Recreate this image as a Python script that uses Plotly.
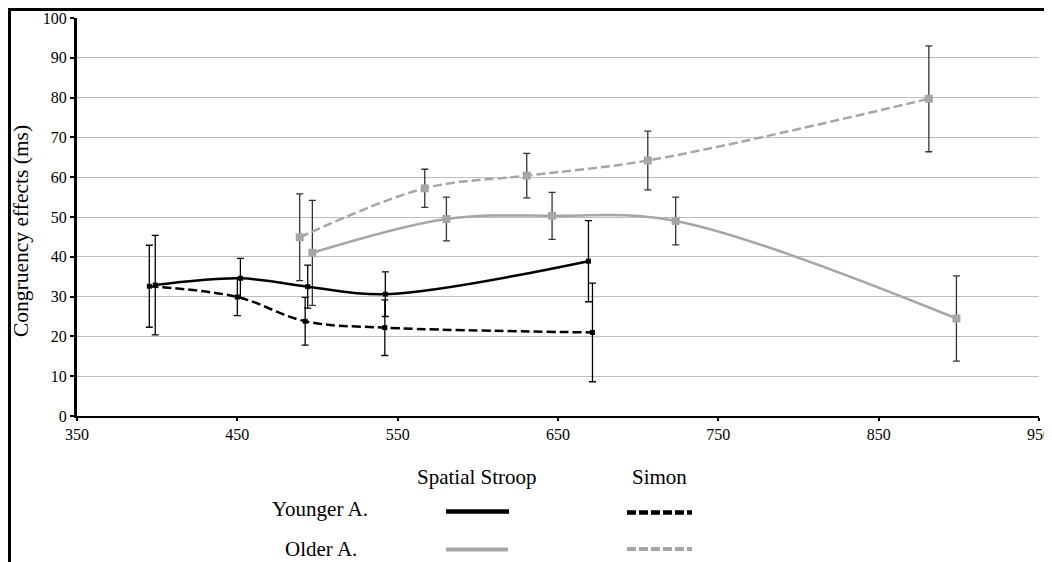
import plotly.graph_objects as go

# ---- data ----
young_stroop_x = [398.8, 451.9, 493.9, 542.3, 669.0]
young_stroop_y = [32.9, 34.6, 32.5, 30.6, 38.9]
young_stroop_err = [12.5, 5.0, 5.4, 5.6, 10.2]

young_simon_x = [395.1, 450.0, 492.3, 542.0, 671.5]
young_simon_y = [32.6, 29.9, 23.8, 22.2, 21.0]
young_simon_err = [10.3, 4.7, 6.0, 7.0, 12.4]

old_stroop_x = [496.8, 580.4, 646.3, 723.4, 898.5]
old_stroop_y = [41.0, 49.5, 50.3, 49.0, 24.5]
old_stroop_err = [13.2, 5.5, 5.9, 6.0, 10.7]

old_simon_x = [488.9, 566.9, 630.5, 706.0, 881.3]
old_simon_y = [44.9, 57.2, 60.4, 64.2, 79.7]
old_simon_err = [10.9, 4.8, 5.6, 7.4, 13.3]

x_ticks = [350, 450, 550, 650, 750, 850, 950]
y_ticks = [0, 10, 20, 30, 40, 50, 60, 70, 80, 90, 100]

column_labels = ["Spatial Stroop", "Simon"]
row_labels = ["Younger A.", "Older A."]
y_title = "Congruency effects (ms)"

BLACK = "#000000"
GRAY = "#a6a6a6"
FONT = "Liberation Serif"

fig = go.Figure()


def add_series(x, y, err, color, dash, msize, ecolor):
    fig.add_trace(go.Scatter(
        x=x, y=y, mode="lines+markers",
        line=dict(color=color, width=2.5, dash=dash, shape="spline", smoothing=1.0),
        marker=dict(symbol="square", size=msize, color=color),
        error_y=dict(type="data", array=err, visible=True, color=ecolor,
                     thickness=1.3, width=3.5),
        showlegend=False,
    ))


add_series(old_stroop_x, old_stroop_y, old_stroop_err, GRAY, "solid", 8, "#333333")
add_series(old_simon_x, old_simon_y, old_simon_err, GRAY, "9px,4px", 8, "#333333")
add_series(young_stroop_x, young_stroop_y, young_stroop_err, BLACK, "solid", 5, BLACK)
add_series(young_simon_x, young_simon_y, young_simon_err, BLACK, "9px,4px", 5, BLACK)

# The page adds an 8px body margin, so figure pixel = screen pixel - 8.
OFF = 8
W, H = 1044, 554
L, R, T, B = 69, 13, 10, 146
PW, PH = W - L - R, H - T - B


def px(sx):
    return (sx - OFF - L) / PW


def py(sy):
    return (H - B - (sy - OFF)) / PH


def label(text, sx, sy, size, angle=0):
    return dict(text=text, x=px(sx), y=py(sy), xref="paper", yref="paper",
                xanchor="center", yanchor="middle", textangle=angle,
                showarrow=False, font=dict(family=FONT, size=size, color="black"))


annotations = [
    label(y_title, 21, 231, 21.5, -90),
    label(column_labels[0], 477, 477, 21),
    label(column_labels[1], 659, 477, 21),
    label(row_labels[0], 320, 509, 21),
    label(row_labels[1], 321, 549, 21),
]


def hline(sx0, sx1, sy, color, width, dash="solid", layer="above"):
    return dict(type="line", xref="paper", yref="paper", x0=px(sx0), x1=px(sx1),
                y0=py(sy), y1=py(sy), layer=layer,
                line=dict(color=color, width=width, dash=dash))


def vline(sx, sy0, sy1, color, width, layer="above"):
    return dict(type="line", xref="paper", yref="paper", x0=px(sx), x1=px(sx),
                y0=py(sy0), y1=py(sy1), layer=layer, line=dict(color=color, width=width))


shapes = [
    # outer frame (left, top, right)
    vline(9.5, 8, 600, "black", 3, "below"),
    hline(8, 1049, 9.5, "black", 3, "solid", "below"),
    vline(1048, 8, 600, "black", 3, "below"),
    # legend samples
    hline(446, 509, 511.5, BLACK, 4.5),
    hline(627, 692, 512.5, BLACK, 4.5, "9px,3px"),
    hline(446, 508, 549.5, GRAY, 4),
    hline(627, 692, 549, GRAY, 4, "9px,3px"),
]

fig.update_layout(
    width=W, height=H,
    margin=dict(l=L, r=R, t=T, b=B, autoexpand=False),
    paper_bgcolor="white", plot_bgcolor="rgba(0,0,0,0)",
    font=dict(family=FONT, color="black"),
    annotations=annotations, shapes=shapes,
    xaxis=dict(range=[350, 950], tickvals=x_ticks, ticktext=[str(v) for v in x_ticks],
               showgrid=False, zeroline=False, showline=True, linecolor="black", linewidth=2,
               ticks="outside", ticklen=3, tickwidth=2, tickcolor="black",
               ticklabeloverflow="allow",
               tickfont=dict(family=FONT, size=16, color="black")),
    yaxis=dict(range=[0, 100], tickvals=y_ticks, ticktext=[str(v) for v in y_ticks],
               showgrid=True, gridcolor="#bdbdbd", gridwidth=1.3, zeroline=False,
               showline=True, linecolor="black", linewidth=3,
               ticks="outside", ticklen=4, tickwidth=2, tickcolor="black",
               tickfont=dict(family=FONT, size=16, color="black")),
)

fig.write_html("out.html")
